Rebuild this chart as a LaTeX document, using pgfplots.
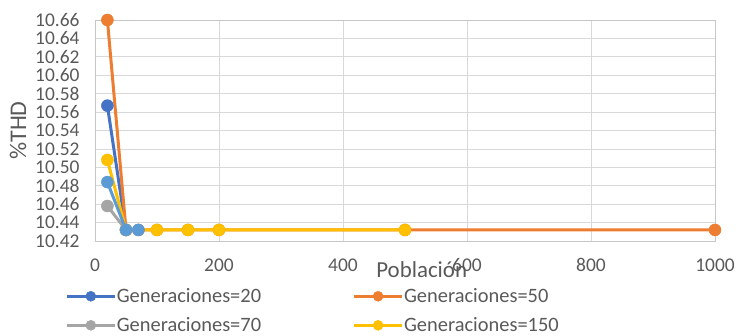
\documentclass[border=0pt]{standalone}
\usepackage{fontspec}
\setmainfont{Carlito}
\usepackage{pgfplots}
\pgfplotsset{compat=1.18}

\definecolor{serA}{HTML}{4472C4}
\definecolor{serB}{HTML}{ED7D31}
\definecolor{serC}{HTML}{A5A5A5}
\definecolor{serD}{HTML}{FFC000}
\definecolor{serE}{HTML}{5B9BD5}
\definecolor{txtgray}{HTML}{595959}
\definecolor{gridgray}{HTML}{D9D9D9}
\definecolor{axgray}{HTML}{C6C6C6}

\begin{document}
\begin{tikzpicture}
\begin{axis}[
  scale only axis, width=620bp, height=221bp,
  xmin=0, xmax=1000, ymin=10.42, ymax=10.66,
  xtick={0,200,400,600,800,1000},
  ytick={10.42,10.44,10.46,10.48,10.50,10.52,10.54,10.56,10.58,10.60,10.62,10.64,10.66},
  grid=major,
  major grid style={draw=gridgray, line width=0.8bp},
  axis line style={draw=axgray, line width=0.8bp},
  major tick length=0pt,
  /pgf/number format/assume math mode=true,
  ticklabel style={font=\fontsize{19.5}{19.5}\selectfont, text=txtgray},
  yticklabel style={/pgf/number format/fixed, /pgf/number format/fixed zerofill,
    /pgf/number format/precision=2, xshift=-12bp},
  xticklabel style={/pgf/number format/1000 sep={}, yshift=-14bp},
  scaled y ticks=false,
  xlabel={Población}, ylabel={\%THD},
  every axis x label/.style={at={(axis description cs:0.527,-0.131)}, anchor=center,
    font=\fontsize{23}{23}\selectfont, text=txtgray},
  every axis y label/.style={at={(axis description cs:-0.124,0.5)}, anchor=center,
    rotate=90, font=\fontsize{24}{24}\selectfont, text=txtgray},
  legend columns=2,
  legend cell align=left,
  legend style={at={(axis description cs:-0.053,-0.205)}, anchor=north west,
    draw=none, fill=none, font=\fontsize{20.5}{20.5}\selectfont, text=txtgray,
    row sep=13.5bp,
    nodes={inner xsep=0.5bp, inner ysep=0bp},
    /tikz/every even column/.append style={column sep=91bp}},
  legend image code/.code={\draw[mark repeat=2, mark phase=2, #1, mark size=5bp]
    plot coordinates {(0bp,0bp) (24bp,0bp) (48bp,0bp)};},
  every axis plot/.append style={line width=3bp, mark=*, mark size=6bp,
    mark options={line width=0.5bp}},
]
% Generaciones = 20
\addplot[color=serA] coordinates {(20,10.567) (50,10.432)};
\addlegendentry{Generaciones=20}
% Generaciones = 50
\addplot[color=serB] coordinates {(20,10.660) (50,10.432) (70,10.432) (100,10.432)
  (150,10.432) (200,10.432) (500,10.432) (1000,10.432)};
\addlegendentry{Generaciones=50}
% Generaciones = 70
\addplot[color=serC] coordinates {(20,10.458) (50,10.432)};
\addlegendentry{Generaciones=70}
% Generaciones = 150
\addplot[color=serD] coordinates {(20,10.508) (50,10.432) (100,10.432) (150,10.432)
  (200,10.432) (500,10.432)};
\addlegendentry{Generaciones=150}
% Generaciones = 100
\addplot[color=serE, forget plot] coordinates {(20,10.484) (50,10.432) (70,10.432)};
\end{axis}
\pgfresetboundingbox
\path (-95bp,-95bp) rectangle (642bp,241bp);
\end{tikzpicture}
\end{document}
